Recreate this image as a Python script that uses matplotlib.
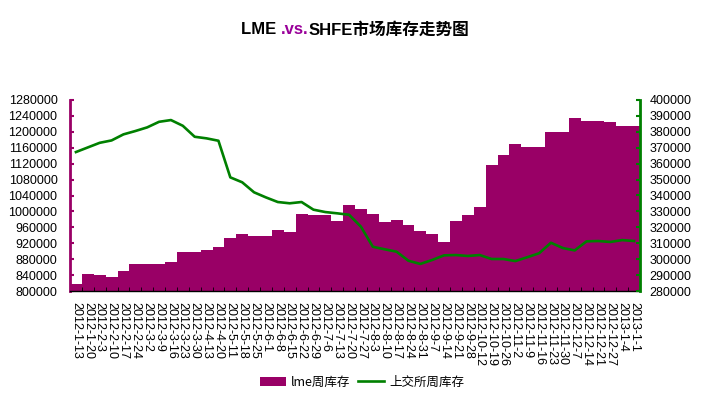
import matplotlib
matplotlib.use("Agg")
import matplotlib.pyplot as plt
from matplotlib.ticker import MultipleLocator, StrMethodFormatter
import numpy as np

# --- данные ---
dates = [
    "2012-1-13", "2012-1-20", "2012-2-3", "2012-2-10", "2012-2-17", "2012-2-24",
    "2012-3-2", "2012-3-9", "2012-3-16", "2012-3-23", "2012-3-30", "2012-4-13",
    "2012-4-20", "2012-5-11", "2012-5-18", "2012-5-25", "2012-6-1", "2012-6-8",
    "2012-6-15", "2012-6-22", "2012-6-29", "2012-7-6", "2012-7-13", "2012-7-20",
    "2012-7-27", "2012-8-3", "2012-8-10", "2012-8-17", "2012-8-24", "2012-8-31",
    "2012-9-7", "2012-9-14", "2012-9-21", "2012-9-28", "2012-10-12", "2012-10-19",
    "2012-10-26", "2012-11-2", "2012-11-9", "2012-11-16", "2012-11-23", "2012-11-30",
    "2012-12-7", "2012-12-14", "2012-12-21", "2012-12-27", "2013-1-4", "2013-1-1",
]

# LME weekly stock (left axis)
lme_stock = [
    818000, 843500, 840000, 835000, 850000, 868000, 868000, 868000,
    873000, 898000, 898000, 903000, 910000, 934000, 943000, 938000,
    938000, 953000, 948000, 993500, 991000, 991000, 976000, 1016000,
    1006000, 993500, 973000, 978000, 966000, 951000, 943000, 923000,
    976000, 991000, 1011000, 1116600, 1141800, 1169400, 1162000, 1162000,
    1199600, 1199600, 1234700, 1227000, 1227000, 1224700, 1214600, 1214600,
]

# SHFE weekly stock (right axis)
shfe_stock = [
    367300, 370200, 373100, 374600, 378400, 380500, 382800, 386300,
    387400, 383800, 376900, 375900, 374400, 351400, 348300, 342000,
    338800, 335900, 335100, 335900, 331100, 329600, 328800, 327900,
    320400, 307800, 306200, 304700, 299000, 297000, 299500, 302400,
    302600, 302000, 302600, 300100, 300100, 298800, 301200, 303700,
    310300, 307000, 305500, 311200, 311400, 310800, 312000, 311400,
]

PURPLE = "#990066"
GREEN = "#008000"
W, H = 706, 396

plt.rcParams["font.family"] = ["Liberation Sans", "Noto Sans CJK SC", "DejaVu Sans"]

fig = plt.figure(figsize=(W / 100, H / 100), dpi=100)
ax = fig.add_axes([70 / W, 1 - 291 / H, 570 / W, 191 / H])

x = np.arange(len(dates))
bars = ax.bar(x, lme_stock, width=1.0, color=PURPLE, linewidth=0, label="lme周库存")
ax.set_xlim(-0.5, len(dates) - 0.5)
ax.set_ylim(800000, 1280000)
ax.yaxis.set_major_locator(MultipleLocator(40000))
ax.yaxis.set_major_formatter(StrMethodFormatter("{x:.0f}"))

ax.set_xticks(x)
ax.set_xticklabels(dates, rotation=-90, fontsize=9)
ax.set_xticks(np.arange(len(dates) + 1) - 0.5, minor=True)
ax.tick_params(axis="x", which="major", length=0, pad=8)
ax.tick_params(axis="x", which="minor", direction="in", length=3, color="black")
ax.tick_params(axis="y", direction="in", length=3, width=1.5, color=PURPLE,
               labelsize=9, pad=9)

ax.spines["top"].set_visible(False)
ax.spines["right"].set_visible(False)
ax.spines["left"].set_color(PURPLE)
ax.spines["left"].set_linewidth(2)
ax.spines["bottom"].set_color("black")
ax.spines["bottom"].set_linewidth(1)

ax2 = ax.twinx()
line, = ax2.plot(x, shfe_stock, color=GREEN, lw=1.9, label="上交所周库存")
ax2.set_ylim(280000, 400000)
ax2.yaxis.set_major_locator(MultipleLocator(10000))
ax2.yaxis.set_major_formatter(StrMethodFormatter("{x:.0f}"))
ax2.tick_params(axis="y", direction="in", length=3, width=1.5, color=GREEN,
                labelsize=9, pad=7)
for s in ["top", "left", "bottom"]:
    ax2.spines[s].set_visible(False)
ax2.spines["right"].set_color(GREEN)
ax2.spines["right"].set_linewidth(2)

# --- заголовок из трёх кусков, ".vs." другим цветом ---
parts = [("LME ", "black"), (".vs.", "#990099"), ("SHFE市场库存走势图", "black")]
fig.canvas.draw()
renderer = fig.canvas.get_renderer()
texts = []
widths = []
for s, c in parts:
    t = fig.text(0, 1 - 30 / H, s, color=c, fontsize=12, fontweight="bold",
                 va="center", ha="left")
    texts.append(t)
    widths.append(t.get_window_extent(renderer).width)
total = sum(widths)
pos = 355 - total / 2
for t, w in zip(texts, widths):
    t.set_x(pos / W)
    pos += w

fig.legend([bars, line], ["lme周库存", "上交所周库存"], loc="center",
           bbox_to_anchor=(362 / W, 1 - 382 / H), ncol=2, frameon=False,
           prop={"family": ["Noto Sans CJK SC"], "size": 9},
           handlelength=2.1, handletextpad=0.4, columnspacing=0.6)

fig.savefig("out.png", dpi=100)
